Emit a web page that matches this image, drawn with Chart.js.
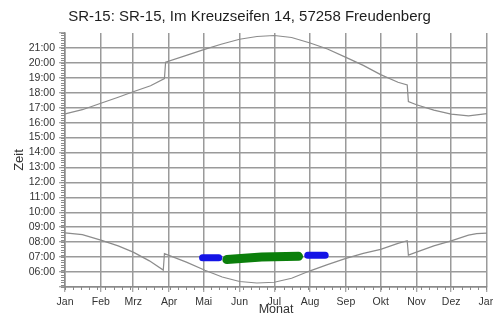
<!DOCTYPE html>
<html>
<head>
<meta charset="utf-8">
<script src="https://cdn.jsdelivr.net/npm/chart.js@4.4.1/dist/chart.umd.min.js"></script>
<style>
  html, body { margin: 0; padding: 0; background: #fff; }
  canvas { display: block; }
</style>
</head>
<body>
<canvas id="sunChart" width="493" height="317"></canvas>
<script>
// Achse: Tage im Jahr, Monatsanfaenge
const monthDays = [0, 31, 59, 90, 120, 151, 181, 212, 243, 273, 304, 334, 365];
const monthLabels = ['Jan', 'Feb', 'Mrz', 'Apr', 'Mai', 'Jun', 'Jul', 'Aug', 'Sep', 'Okt', 'Nov', 'Dez', 'Jan'];

// Sonnenuntergang (oben)
const sunsetDays = [0, 15, 31, 46, 59, 74, 86, 87, 105, 120, 135, 151, 166, 181, 196, 212, 227, 243, 258, 273, 288, 296, 297, 304, 319, 334, 349, 365];
const sunsetTimes = ['16:35', '16:52', '17:18', '17:42', '18:04', '18:28', '18:57', '20:03', '20:30', '20:53', '21:15', '21:35', '21:46', '21:50', '21:42', '21:20', '20:56', '20:22', '19:50', '19:13', '18:42', '18:31', '17:25', '17:12', '16:50', '16:34', '16:27', '16:36'];

// Sonnenaufgang (unten)
const sunriseDays = [0, 15, 31, 46, 59, 73, 85, 86, 105, 121, 136, 151, 166, 181, 196, 212, 227, 243, 258, 273, 288, 296, 297, 304, 319, 334, 349, 356, 365];
const sunriseTimes = ['08:37', '08:30', '08:08', '07:45', '07:20', '06:45', '06:08', '07:14', '06:40', '06:07', '05:40', '05:22', '05:16', '05:19', '05:35', '06:05', '06:30', '06:55', '07:15', '07:31', '07:55', '08:06', '07:08', '07:20', '07:45', '08:05', '08:28', '08:34', '08:36'];

// Schattenzeiten
const shadeBlue1Days = [119, 133];
const shadeBlue1Times = ['06:57', '06:57'];
const shadeGreenDays = [140, 170, 202];
const shadeGreenTimes = ['06:50', '07:00', '07:03'];
const shadeBlue2Days = [210, 225];
const shadeBlue2Times = ['07:08', '07:08'];

function toHours(s) {
    const p = s.split(':');
    return +p[0] + (+p[1]) / 60;
}
function pts(days, times) {
    return days.map((d, i) => ({ x: d, y: toHours(times[i]) }));
}

const font = "'Liberation Sans', Arial, sans-serif";

const minorTicks = {
    id: 'minorTicks',
    afterDraw(chart) {
        const { ctx, chartArea: a, scales: { x, y } } = chart;
        ctx.save();
        ctx.strokeStyle = '#8a8a8a';
        ctx.lineWidth = 1;
        ctx.beginPath();
        for (let d = 0; d <= 365; d += 7) {
            const px = Math.round(x.getPixelForValue(d)) + 0.5;
            ctx.moveTo(px, a.bottom);
            ctx.lineTo(px, a.bottom + 3);
        }
        for (let m = 5 * 60; m <= 22 * 60; m += 10) {
            const py = Math.round(y.getPixelForValue(m / 60)) + 0.5;
            ctx.moveTo(a.left - 4, py);
            ctx.lineTo(a.left, py);
        }
        ctx.stroke();
        ctx.restore();
    }
};

const ctx = document.getElementById('sunChart').getContext('2d');
const sunChart = new Chart(ctx, {
    type: 'line',
    data: {
        datasets: [{
            label: 'Sonnenuntergang',
            data: pts(sunsetDays, sunsetTimes),
            borderColor: '#8c8c8c',
            borderWidth: 1.2
        }, {
            label: 'Sonnenaufgang',
            data: pts(sunriseDays, sunriseTimes),
            borderColor: '#8c8c8c',
            borderWidth: 1.2
        }, {
            label: 'Schatten 1',
            data: pts(shadeBlue1Days, shadeBlue1Times),
            borderColor: '#1414e6',
            borderWidth: 7,
            borderCapStyle: 'round'
        }, {
            label: 'Schatten 2',
            data: pts(shadeGreenDays, shadeGreenTimes),
            borderColor: '#0b7f0b',
            borderWidth: 9,
            borderCapStyle: 'round'
        }, {
            label: 'Schatten 3',
            data: pts(shadeBlue2Days, shadeBlue2Times),
            borderColor: '#1414e6',
            borderWidth: 7,
            borderCapStyle: 'round'
        }]
    },
    options: {
        responsive: false,
        animation: false,
        layout: { padding: { left: 12, right: 6, top: 0, bottom: 0 } },
        elements: {
            point: { radius: 0 },
            line: { tension: 0, fill: false }
        },
        plugins: {
            legend: { display: false },
            tooltip: { enabled: false },
            title: {
                display: true,
                text: 'SR-15: SR-15, Im Kreuzseifen 14, 57258 Freudenberg',
                color: '#1e1e1e',
                font: { family: font, size: 15, weight: 'normal' },
                padding: { top: 8, bottom: 7 }
            }
        },
        scales: {
            x: {
                type: 'linear',
                min: 0,
                max: 365,
                afterBuildTicks: s => { s.ticks = monthDays.map(v => ({ value: v })); },
                afterFit: s => { s.height = 30; s.paddingLeft = 0; s.paddingRight = 0; },
                ticks: {
                    autoSkip: false,
                    maxRotation: 0,
                    padding: 4,
                    color: '#333',
                    font: { family: font, size: 10.5 },
                    callback: (v, i) => monthLabels[i]
                },
                grid: {
                    color: '#9a9a9a',
                    lineWidth: 1.5,
                    tickLength: 5,
                    tickColor: '#8a8a8a',
                    tickWidth: 1
                },
                border: { color: '#8a8a8a', width: 1.5 },
                title: {
                    display: true,
                    text: 'Monat',
                    color: '#333',
                    font: { family: font, size: 12.5 },
                    padding: { top: 0, bottom: 0 }
                }
            },
            y: {
                type: 'linear',
                min: 5,
                max: 22,
                afterFit: s => { s.width = 53; s.paddingTop = 0; s.paddingBottom = 0; },
                ticks: {
                    stepSize: 1,
                    autoSkip: false,
                    padding: 4,
                    color: '#333',
                    font: { family: font, size: 10.5 },
                    callback: v => (v < 6 || v > 21) ? '' : String(v).padStart(2, '0') + ':00'
                },
                grid: {
                    color: c => (c.tick && c.tick.value === 22) ? 'rgba(0,0,0,0)' : '#9a9a9a',
                    lineWidth: 1.5,
                    tickLength: 6,
                    tickColor: '#8a8a8a',
                    tickWidth: 1
                },
                border: { color: '#8a8a8a', width: 1.5 },
                title: {
                    display: true,
                    text: 'Zeit',
                    color: '#333',
                    font: { family: font, size: 13 },
                    padding: { top: 0, bottom: 0 }
                }
            }
        }
    },
    plugins: [minorTicks]
});
</script>
</body>
</html>
